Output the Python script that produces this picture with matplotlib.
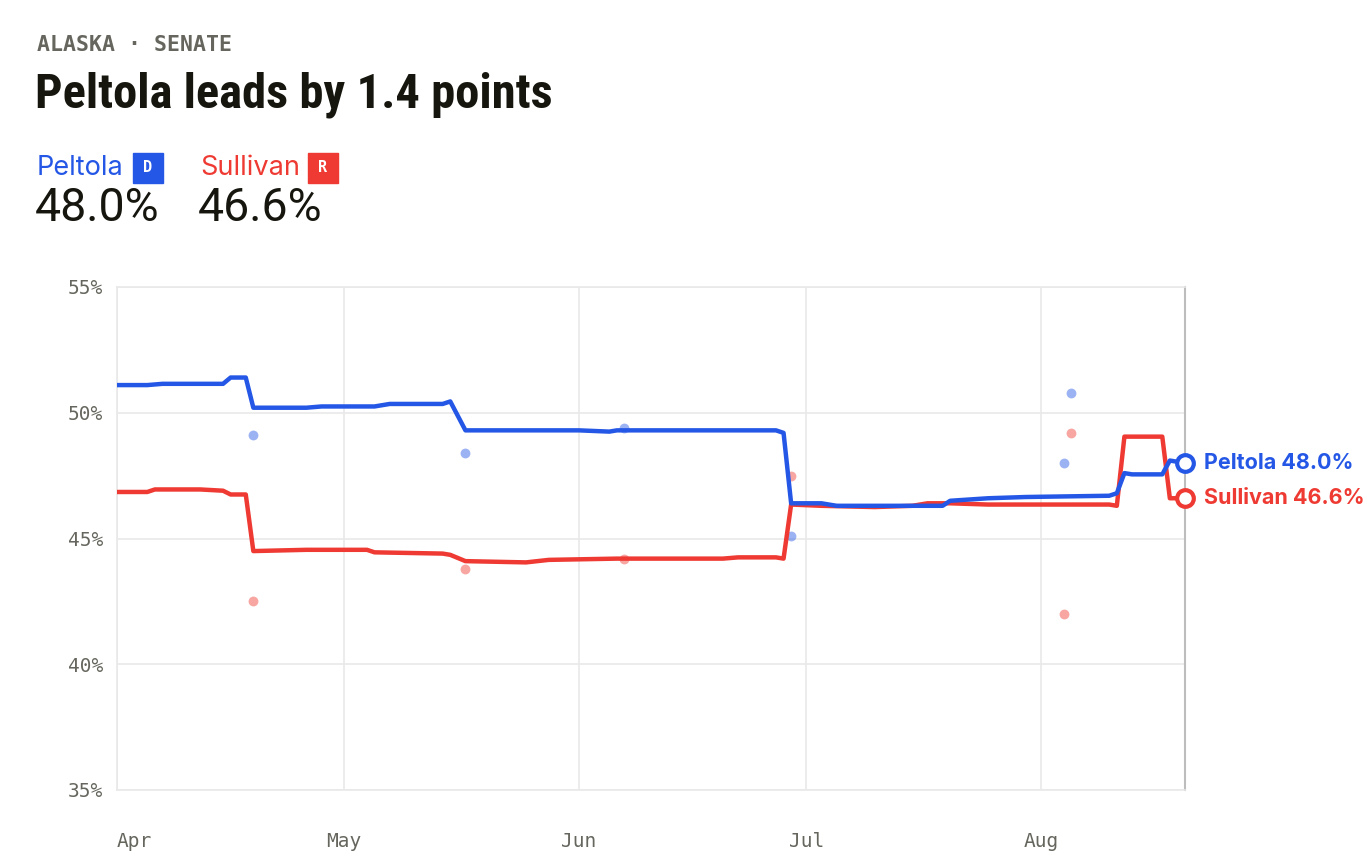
import matplotlib
matplotlib.use("Agg")
import matplotlib.pyplot as plt
from matplotlib import font_manager
from matplotlib.patches import Rectangle
import pandas as pd

# datos (promedio de encuestas)
peltola_fechas = ["2024-04-01", "2024-04-05", "2024-04-07", "2024-04-15", "2024-04-16",
                  "2024-04-18", "2024-04-19", "2024-04-26", "2024-04-28", "2024-05-05",
                  "2024-05-07", "2024-05-14", "2024-05-15", "2024-05-17", "2024-06-01",
                  "2024-06-05", "2024-06-06", "2024-06-27", "2024-06-28", "2024-06-29",
                  "2024-07-03", "2024-07-05", "2024-07-19", "2024-07-20", "2024-07-25",
                  "2024-07-30", "2024-08-10", "2024-08-11", "2024-08-12", "2024-08-13",
                  "2024-08-17", "2024-08-18", "2024-08-19", "2024-08-20"]
peltola_valores = [51.1, 51.1, 51.15, 51.15, 51.4,
                   51.4, 50.2, 50.2, 50.25, 50.25,
                   50.35, 50.35, 50.45, 49.3, 49.3,
                   49.25, 49.3, 49.3, 49.2, 46.4,
                   46.4, 46.3, 46.3, 46.5, 46.6,
                   46.65, 46.7, 46.8, 47.6, 47.55,
                   47.55, 48.1, 48.05, 48.0]

sullivan_fechas = ["2024-04-01", "2024-04-05", "2024-04-06", "2024-04-12", "2024-04-15",
                   "2024-04-16", "2024-04-18", "2024-04-19", "2024-04-26", "2024-05-04",
                   "2024-05-05", "2024-05-14", "2024-05-15", "2024-05-17", "2024-05-25",
                   "2024-05-28", "2024-06-06", "2024-06-20", "2024-06-22", "2024-06-27",
                   "2024-06-28", "2024-06-29", "2024-07-03", "2024-07-10", "2024-07-15",
                   "2024-07-17", "2024-07-20", "2024-07-25", "2024-08-10", "2024-08-11",
                   "2024-08-12", "2024-08-17", "2024-08-18", "2024-08-20"]
sullivan_valores = [46.85, 46.85, 46.95, 46.95, 46.9,
                    46.75, 46.75, 44.5, 44.55, 44.55,
                    44.45, 44.4, 44.35, 44.1, 44.05,
                    44.15, 44.2, 44.2, 44.25, 44.25,
                    44.2, 46.35, 46.3, 46.25, 46.3,
                    46.4, 46.4, 46.35, 46.35, 46.3,
                    49.05, 49.05, 46.6, 46.6]

# encuestas individuales
encuestas_fechas = ["2024-04-19", "2024-05-17", "2024-06-07", "2024-06-29", "2024-08-04", "2024-08-05"]
encuestas_peltola = [49.1, 48.4, 49.4, 45.1, 48.0, 50.8]
encuestas_sullivan = [42.5, 43.8, 44.2, 47.5, 42.0, 49.2]

meses = ["2024-04-01", "2024-05-01", "2024-06-01", "2024-07-01", "2024-08-01"]
meses_etiquetas = ["Apr", "May", "Jun", "Jul", "Aug"]
y_ticks = [35, 40, 45, 50, 55]

AZUL = "#2457e6"
ROJO = "#ee3a32"
GRIS = "#66665e"
NEGRO = "#16160f"

# buscamos una fuente estrecha y negrita para el titulo
fuentes = font_manager.fontManager.ttflist
def es_negrita(f):
    return f.weight in (600, 700, 800, "bold", "semibold", "heavy") or "Bold" in f.fname

titulo_archivo = None
titulo_size = 29
for nombre, size in [("Roboto Condensed", 35), ("Liberation Sans Narrow", 33),
                     ("Open Sans Condensed", 33)]:
    cands = [f for f in fuentes if f.name == nombre and es_negrita(f) and "Italic" not in f.fname]
    if cands:
        titulo_archivo, titulo_size = cands[0].fname, size
        break
if titulo_archivo is None:
    cands = [f for f in fuentes if ("Condensed" in f.fname or "Narrow" in f.fname)
             and es_negrita(f) and "Oblique" not in f.fname and "Italic" not in f.fname]
    if cands:
        titulo_archivo = cands[0].fname

W, H = 1372, 866
fig = plt.figure(figsize=(W / 100, H / 100), dpi=100)
fig.patch.set_facecolor("white")
ax = fig.add_axes([117 / W, 1 - 790 / H, (1185 - 117) / W, (790 - 287) / H])

pf = pd.to_datetime(peltola_fechas)
sf = pd.to_datetime(sullivan_fechas)
ef = pd.to_datetime(encuestas_fechas)

ax.scatter(ef, encuestas_peltola, s=50, color=AZUL, alpha=0.45, linewidths=0, zorder=2)
ax.scatter(ef, encuestas_sullivan, s=50, color=ROJO, alpha=0.45, linewidths=0, zorder=2)

ax.plot(sf, sullivan_valores, color=ROJO, lw=3.2, solid_capstyle="round", zorder=3)
ax.plot(pf, peltola_valores, color=AZUL, lw=3.2, solid_capstyle="round", zorder=3)

# marcadores finales
ax.plot(pf[-1], peltola_valores[-1], "o", ms=12, mfc="white", mec=AZUL, mew=3, zorder=5, clip_on=False)
ax.plot(sf[-1], sullivan_valores[-1], "o", ms=12, mfc="white", mec=ROJO, mew=3, zorder=5, clip_on=False)
ax.annotate(f"Peltola {peltola_valores[-1]:.1f}%", (pf[-1], peltola_valores[-1]),
            xytext=(14, 0), textcoords="offset points", va="center", ha="left",
            color=AZUL, fontsize=15.5, fontweight="bold", family="Inter")
ax.annotate(f"Sullivan {sullivan_valores[-1]:.1f}%", (sf[-1], sullivan_valores[-1]),
            xytext=(14, 0), textcoords="offset points", va="center", ha="left",
            color=ROJO, fontsize=15.5, fontweight="bold", family="Inter")

ax.set_xlim(pd.Timestamp("2024-04-01"), pd.Timestamp("2024-08-20"))
ax.set_ylim(35, 55)
ax.set_yticks(y_ticks)
ax.set_yticklabels([f"{v}%" for v in y_ticks])
ax.set_xticks(pd.to_datetime(meses))
ax.set_xticklabels(meses_etiquetas)
ax.xaxis.get_ticklabels()[0].set_horizontalalignment("left")

for lab in ax.get_xticklabels() + ax.get_yticklabels():
    lab.set_family("DejaVu Sans Mono")
    lab.set_fontsize(14)
    lab.set_color(GRIS)
ax.tick_params(axis="both", length=0)
ax.tick_params(axis="x", pad=30)
ax.tick_params(axis="y", pad=10)

ax.grid(True, color="#e9e9e9", lw=1.2)
ax.set_axisbelow(True)
for lado in ["top", "bottom", "left"]:
    ax.spines[lado].set_color("#e9e9e9")
    ax.spines[lado].set_linewidth(1.2)
ax.spines["right"].set_color("#bdbdbd")
ax.spines["right"].set_linewidth(1.5)

# encabezado
def ft(x, y, s, **kw):
    fig.text(x / W, 1 - y / H, s, **kw)

ft(37, 45, "ALASKA · SENATE", va="center", ha="left", family="DejaVu Sans Mono",
   fontsize=15.5, fontweight="bold", color=GRIS)
if titulo_archivo:
    prop = font_manager.FontProperties(fname=titulo_archivo, size=titulo_size)
    ft(35, 95, "Peltola leads by 1.4 points", va="center", ha="left",
       fontproperties=prop, color=NEGRO)
else:
    ft(36, 95, "Peltola leads by 1.4 points", va="center", ha="left",
       family="DejaVu Sans", fontsize=27, fontweight="bold", color=NEGRO)

ft(37, 168, "Peltola", va="center", ha="left", family="Inter", fontsize=19.5, color=AZUL)
ft(200, 168, "Sullivan", va="center", ha="left", family="Inter", fontsize=19.5, color=ROJO)
for x0, c, letra in [(133, AZUL, "D"), (308, ROJO, "R")]:
    fig.patches.append(Rectangle((x0 / W, 1 - 183 / H), 30 / W, 30 / H,
                                 transform=fig.transFigure, color=c))
    ft(x0 + 15, 168, letra, va="center", ha="center", family="DejaVu Sans Mono",
       fontsize=11, fontweight="bold", color="white")

ft(35, 208, "48.0%", va="center", ha="left", family="Roboto", fontsize=33.5, color=NEGRO)
ft(198, 208, "46.6%", va="center", ha="left", family="Roboto", fontsize=33.5, color=NEGRO)

plt.savefig("out.png", dpi=100, facecolor="white")
